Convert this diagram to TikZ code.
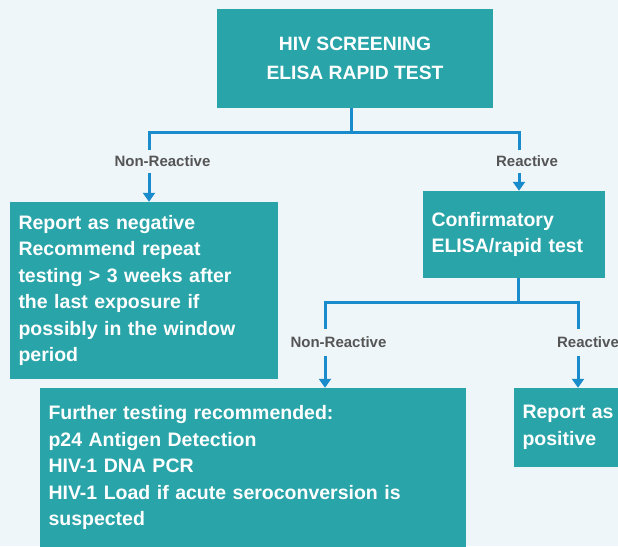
\documentclass[tikz,border=0pt]{standalone}
\usepackage{fontspec}
\setmainfont{Liberation Sans}
\usepackage{xcolor}
\usetikzlibrary{arrows.meta}
\definecolor{boxteal}{HTML}{29A4A8}
\definecolor{pagebg}{HTML}{EEF6F9}
\definecolor{linkblue}{HTML}{1A8BCB}
\definecolor{labelgray}{HTML}{555555}

\begin{document}
\begin{tikzpicture}[x=1pt,y=-1pt,
		box/.style={fill=boxteal,text=white,inner xsep=8.5pt,inner ysep=0pt,align=left,
			font=\bfseries\fontsize{19.5}{26.5}\selectfont},
		branch/.style={text=labelgray,inner sep=0pt,font=\bfseries\fontsize{15}{18}\selectfont},
		link/.style={draw=linkblue,line width=3pt},
		arrow/.style={link,-{Triangle[width=12pt,length=9pt]}}]
		\useasboundingbox[fill=pagebg] (0,0) rectangle (618,546);
		\node[box,align=center,minimum width=276pt,minimum height=99pt,
			font=\bfseries\fontsize{19.3}{29}\selectfont] (screen) at (355,58.5) {HIV SCREENING\\ELISA RAPID TEST};
		\node[box,text width=251pt,minimum height=177pt] (neg) at (144,290.5)
			{Report as negative\\Recommend repeat\\testing > 3 weeks after\\the last exposure if\\possibly in the window\\period};
		\node[box,text width=165pt,minimum height=87pt] (confirm) at (514,234.5) {Confirmatory\\ELISA/rapid test};
		\node[box,text width=409pt,minimum height=159pt] (further) at (253,467.5)
			{Further testing recommended:\\p24 Antigen Detection\\HIV-1 DNA PCR\\HIV-1 Load if acute seroconversion is\\suspected};
		\node[box,text width=103pt,minimum height=79pt] (pos) at (574,427.5) {Report as\\positive};
		\node[branch] (nr1) at (162.5,161) {Non-Reactive};
		\node[branch] (r1) at (527,161) {Reactive};
		\node[branch] (nr2) at (338.5,342) {Non-Reactive};
		\node[branch] (r2) at (588,342) {Reactive};
		\coordinate (t1) at (351,132);
		\coordinate (u1) at (149,150);
		\coordinate (v1) at (519,150);
		\coordinate (a1) at (149,173);
		\coordinate (b1) at (519,173);
		\coordinate (t2) at (518,302);
		\coordinate (u2) at (325,329);
		\coordinate (v2) at (578,329);
		\coordinate (a2) at (325,356);
		\coordinate (b2) at (578,356);
		\draw[link]
		(screen.south -| t1) -- (t1) (t1) -| (u1) (t1) -| (v1)
		(confirm.south -| t2) -- (t2) (t2) -| (u2) (t2) -| (v2)
		;
		\draw[arrow] (a1) -- (neg.north -| a1);
		\draw[arrow] (b1) -- (confirm.north -| b1);
		\draw[arrow] (a2) -- (further.north -| a2);
		\draw[arrow] (b2) -- (pos.north -| b2);
	\end{tikzpicture}
\end{document}
